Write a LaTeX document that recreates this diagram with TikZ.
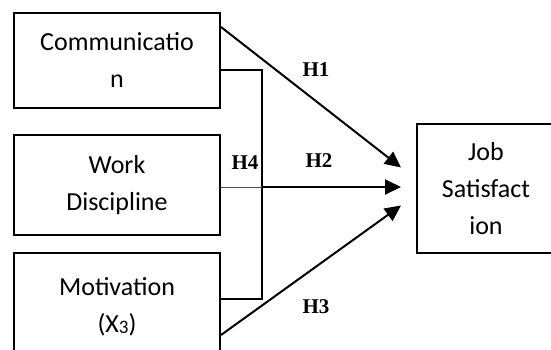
\documentclass[tikz,border=0pt]{standalone}
\usepackage{fontspec}
\setmainfont{Carlito}
\newfontfamily\hfont{Liberation Serif}
\usepackage{tikz}
\usetikzlibrary{arrows.meta, calc, positioning}

\begin{document}
\begin{tikzpicture}[
    x=1pt, y=-1pt,
    var/.style={draw=black, line width=2pt, inner sep=0pt, align=center,
        font=\fontsize{26}{37}\selectfont},
    path/.style={-{Triangle[length=16pt, width=15pt]}, line width=2pt},
    link/.style={line width=2pt},
    hyp/.style={font=\hfont\bfseries\fontsize{21}{24}\selectfont}
]
\useasboundingbox (0,0) rectangle (551,349);
\clip (0,0) rectangle (551,349);

% Independent variables
\node[var, minimum width=206pt, minimum height=95pt] (comm) at (117, 60.5) {Communicatio\\n};
\node[var, minimum width=206pt, minimum height=100pt] (work) at (117, 185) {Work\\Discipline};
\node[var, minimum width=206pt, minimum height=107pt] (motiv) at (117, 306.5)
    {Motivation\\(X{\fontsize{19}{19}\selectfont\raisebox{-1pt}{3}})};

% Dependent variable
\node[var, minimum width=138pt, minimum height=129pt] (job) at (486, 188.5) {Job\\Satisfact\\ion};

% Arrow tips in front of the dependent variable
\coordinate (tip1) at ([xshift=-15pt, yshift=21pt]job.west);
\coordinate (tip2) at ([xshift=-15pt, yshift=1.5pt]job.west);
\coordinate (tip3) at ([xshift=-15pt, yshift=-17pt]job.west);

% Joint path (H4)
\coordinate (join) at (262, 187);
\draw[link] ([yshift=-9.5pt]comm.east) -| (join |- 0,299) -- ([yshift=7.5pt]motiv.east);
\draw[line width=0.8pt, black!70] ([yshift=-2pt]work.east) -- (join);

% Direct paths
\draw[path] ([yshift=-15pt]comm.north east) -- (tip1);
\draw[path] (join) -- (tip2);
\draw[path] ([yshift=-28.5pt]motiv.east) -- (tip3);

% Hypothesis labels
\node[hyp] (h1) at (316, 70) {H1};
\node[hyp] (h2) at (319, 161) {H2};
\node[hyp] (h3) at (316, 307) {H3};
\node[hyp] (h4) at (245, 163) {H4};

\end{tikzpicture}
\end{document}
